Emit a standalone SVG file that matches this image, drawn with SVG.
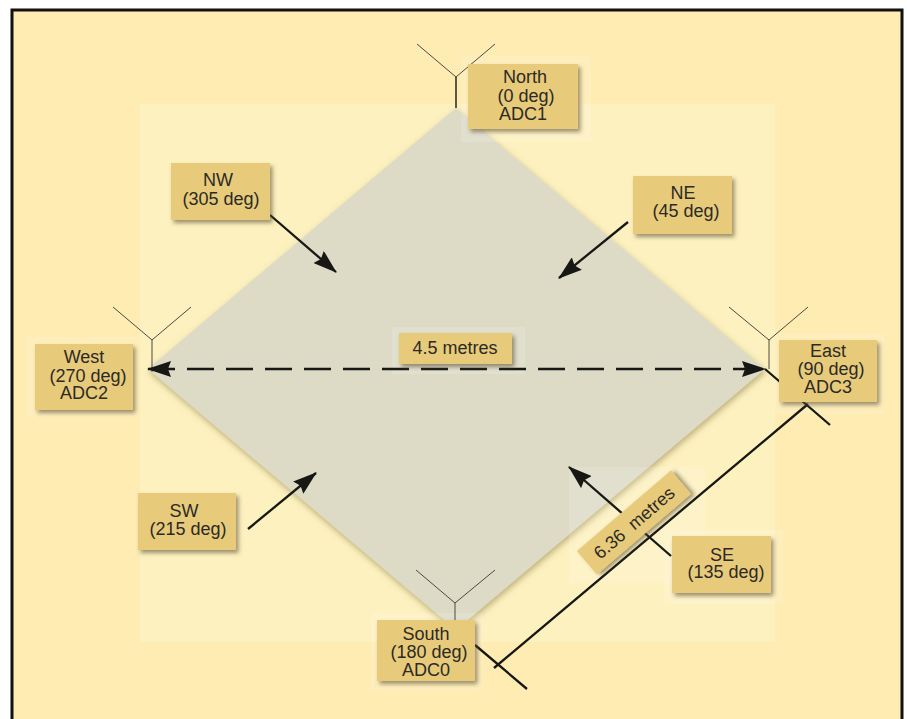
<svg xmlns="http://www.w3.org/2000/svg" width="907" height="719" viewBox="0 0 907 719">
<style>
text{font-family:"Liberation Sans",Arial,sans-serif;font-size:18px;fill:#2b2a26}
.lbl{fill:#e8cb7a;filter:url(#sh)}
.halo{fill:#fff;fill-opacity:.13}
.ant{fill:none;stroke:#4a4a44;stroke-width:1}
.ln{fill:none;stroke:#171714;stroke-width:2.3}
</style>
<defs>
<filter id="sh" x="-20%" y="-20%" width="140%" height="140%"><feDropShadow dx="2.5" dy="3" stdDeviation="2.2" flood-color="#5a5030" flood-opacity=".6"/></filter>
<filter id="ds" x="-5%" y="-5%" width="110%" height="110%"><feDropShadow dx="1" dy="3" stdDeviation="3" flood-color="#8a7a40" flood-opacity=".55"/></filter>
<marker id="ah" viewBox="0 0 24 16" refX="23" refY="8" markerWidth="24" markerHeight="16" markerUnits="userSpaceOnUse" orient="auto-start-reverse"><path d="M0 0L24 8L0 16L3 8Z" fill="#171714"/></marker>
</defs>
<rect width="907" height="719" fill="#fff"/>
<rect x="12" y="10" width="890" height="720" fill="#feecb3" stroke="#111" stroke-width="3"/>
<rect x="140" y="104" width="635" height="538" fill="#fdf1c0"/>
<path id="floor" d="M456 108L765 369L456 630L148 369Z" fill="#dddbc6" filter="url(#ds)"/>
<rect class="halo" x="569" y="467" width="136" height="116"/>
<rect class="halo" x="664" y="530" width="119" height="74"/>
<rect class="halo" x="461" y="56" width="130" height="86"/>
<rect class="halo" x="371" y="613" width="112" height="77"/>
<rect class="halo" x="26" y="337" width="114" height="80"/>
<rect class="halo" x="774" y="334" width="110" height="80"/>
<rect class="halo" x="392" y="327" width="133" height="47"/>
<g id="connectors">
<path class="ant" d="M417 44L456 77L495 44"/><path class="ln" style="stroke-width:1.4" d="M456 77V108"/>
<path class="ant" d="M113 307L152 340L191 307M152 340V372"/>
<path class="ant" d="M729 307L769 340L808 307M769 340V369"/>
<path class="ant" d="M416 570L455 603L495 570M455 603V620"/>
<path class="ln" marker-end="url(#ah)" d="M270 215L336 272"/>
<path class="ln" marker-end="url(#ah)" d="M628 222L559 278"/>
<path class="ln" marker-end="url(#ah)" d="M248 529L316 473"/>
<path class="ln" marker-end="url(#ah)" d="M671 556L569 467"/>
<path class="ln" marker-start="url(#ah)" marker-end="url(#ah)" stroke-dasharray="27 12" d="M148 369H765"/>
<path class="ln" d="M765 369L830 425M475 645L527 689M494 668L808 404"/>
</g>
<g id="north"><rect class="lbl" x="468" y="64" width="110" height="65"/><text x="525" y="83" text-anchor="middle">North</text><text x="526" y="102" text-anchor="middle">(0 deg)</text><text x="523" y="120" text-anchor="middle">ADC1</text></g>
<g id="nw"><rect class="lbl" x="171" y="163" width="99" height="57"/><text x="218" y="186" text-anchor="middle">NW</text><text x="221" y="205" text-anchor="middle">(305 deg)</text></g>
<g id="ne"><rect class="lbl" x="633" y="176" width="99" height="58"/><text x="683" y="199" text-anchor="middle">NE</text><text x="686" y="217" text-anchor="middle">(45 deg)</text></g>
<g id="west"><rect class="lbl" x="35" y="344" width="98" height="66"/><text x="84" y="363" text-anchor="middle">West</text><text x="88" y="382" text-anchor="middle">(270 deg)</text><text x="84" y="399" text-anchor="middle">ADC2</text></g>
<g id="east"><rect class="lbl" x="779" y="340" width="98" height="62"/><text x="828" y="357" text-anchor="middle">East</text><text x="831" y="375" text-anchor="middle">(90 deg)</text><text x="828" y="393" text-anchor="middle">ADC3</text></g>
<g id="dist"><rect class="lbl" x="399" y="333" width="113" height="31"/><text x="455" y="354" text-anchor="middle">4.5 metres</text></g>
<g id="sw"><rect class="lbl" x="138" y="493" width="98" height="57"/><text x="184" y="517" text-anchor="middle">SW</text><text x="188" y="535" text-anchor="middle">(215 deg)</text></g>
<g id="se"><rect class="lbl" x="672" y="536" width="99" height="57"/><text x="722" y="561" text-anchor="middle">SE</text><text x="726" y="578" text-anchor="middle">(135 deg)</text></g>
<g id="south"><rect class="lbl" x="377" y="620" width="98" height="61"/><text x="426" y="640" text-anchor="middle">South</text><text x="429" y="658" text-anchor="middle">(180 deg)</text><text x="426" y="676" text-anchor="middle">ADC0</text></g>
<g id="side"><g transform="rotate(-40.6 634 522.5)"><rect class="lbl" x="572" y="507" width="124" height="31"/><text x="634" y="529" text-anchor="middle" xml:space="preserve">6.36  metres</text></g></g>
</svg>
